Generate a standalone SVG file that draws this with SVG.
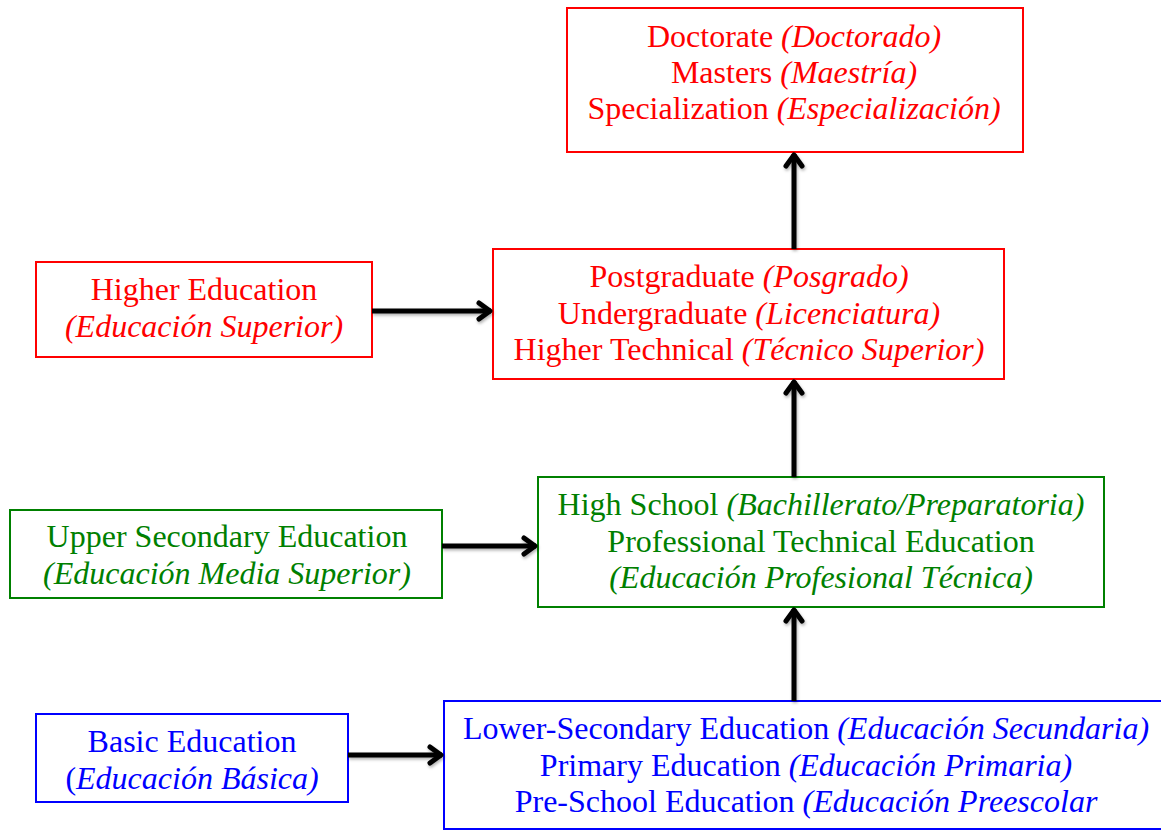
<svg xmlns="http://www.w3.org/2000/svg" width="1161" height="831" viewBox="0 0 1161 831">
<style>
text{font-family:"Liberation Serif","Times New Roman",serif;font-size:32px;text-anchor:middle}
.i{font-style:italic}
.red rect{fill:#fff;stroke:#FF0000;stroke-width:2}
.red text{fill:#FF0000}
.green rect{fill:#fff;stroke:#008000;stroke-width:2}
.green text{fill:#008000}
.blue rect{fill:#fff;stroke:#0000FF;stroke-width:2}
.blue text{fill:#0000FF}
.conn line{stroke:#000;stroke-width:5;marker-end:url(#arr)}
</style>
<defs>
<marker id="arr" markerUnits="userSpaceOnUse" viewBox="0 0 24 24" markerWidth="24" markerHeight="24" refX="19" refY="12" orient="auto">
<path d="M7,4 L18,12 L7,20" fill="none" stroke="#000" stroke-width="5" stroke-linecap="round" stroke-linejoin="round"/>
</marker>
<filter id="sh" x="-20%" y="-20%" width="140%" height="140%">
<feDropShadow dx="1" dy="2" stdDeviation="1.5" flood-color="#000" flood-opacity="0.3"/>
</filter>
</defs>
<rect width="1161" height="831" fill="#fff"/>
<g id="doctorate" class="red">
<rect x="567" y="8" width="456" height="144"/>
<text x="794" y="47">Doctorate <tspan class="i">(Doctorado)</tspan></text>
<text x="794" y="83">Masters <tspan class="i">(Maestría)</tspan></text>
<text x="794" y="119">Specialization <tspan class="i">(Especialización)</tspan></text>
</g>
<g id="higher-education" class="red">
<rect x="36" y="262" width="336" height="95"/>
<text x="204" y="300">Higher Education</text>
<text x="204" y="337" class="i">(Educación Superior)</text>
</g>
<g id="postgraduate" class="red">
<rect x="493" y="249" width="511" height="130"/>
<text x="749" y="287">Postgraduate <tspan class="i">(Posgrado)</tspan></text>
<text x="749" y="324">Undergraduate <tspan class="i">(Licenciatura)</tspan></text>
<text x="749" y="360">Higher Technical <tspan class="i">(Técnico Superior)</tspan></text>
</g>
<g id="upper-secondary" class="green">
<rect x="10" y="510" width="432" height="88"/>
<text x="227" y="547">Upper Secondary Education</text>
<text x="227" y="584" class="i">(Educación Media Superior)</text>
</g>
<g id="high-school" class="green">
<rect x="538" y="477" width="566" height="130"/>
<text x="821" y="515">High School <tspan class="i">(Bachillerato/Preparatoria)</tspan></text>
<text x="821" y="552">Professional Technical Education</text>
<text x="821" y="588" class="i">(Educación Profesional Técnica)</text>
</g>
<g id="basic-education" class="blue">
<rect x="36" y="714" width="312" height="88"/>
<text x="192" y="752">Basic Education</text>
<text x="192" y="789"><tspan>(</tspan><tspan class="i">Educación Básica)</tspan></text>
</g>
<g id="lower-secondary" class="blue">
<rect x="444" y="701" width="730" height="128"/>
<text x="806" y="739">Lower-Secondary Education <tspan class="i">(Educación Secundaria)</tspan></text>
<text x="806" y="776">Primary Education <tspan class="i">(Educación Primaria)</tspan></text>
<text x="806" y="812">Pre-School Education <tspan class="i">(Educación Preescolar</tspan></text>
</g>
<g id="connectors" class="conn" filter="url(#sh)">
<line x1="794" y1="249" x2="794" y2="154"/>
<line x1="794" y1="477" x2="794" y2="381"/>
<line x1="794" y1="701" x2="794" y2="609"/>
<line x1="372" y1="311" x2="491" y2="311"/>
<line x1="442" y1="546" x2="536" y2="546"/>
<line x1="348" y1="755" x2="442" y2="755"/>
</g>
</svg>
